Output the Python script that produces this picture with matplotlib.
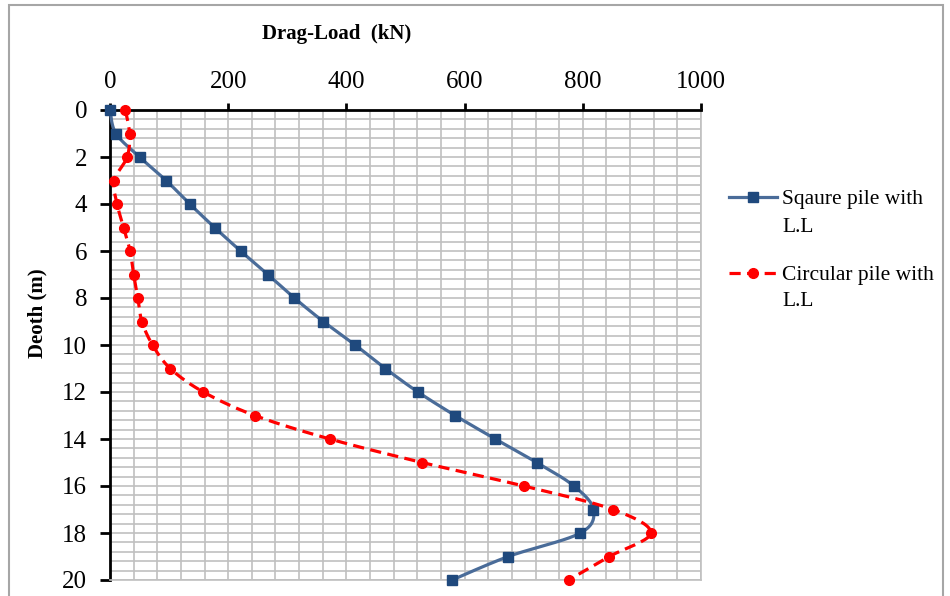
import numpy as np
import matplotlib
matplotlib.use("Agg")
import matplotlib.pyplot as plt
from matplotlib.patches import Rectangle

depth = [0, 1, 2, 3, 4, 5, 6, 7, 8, 9, 10, 11, 12, 13, 14, 15, 16, 17, 18, 19, 20]
square_load = [0, 10, 50, 95, 135, 177, 221, 267, 312, 361, 415, 466, 521, 584, 652,
               722, 785, 818, 796, 674, 579]
circular_load = [26, 33, 29, 7, 12, 23, 34, 40, 47, 54, 72, 102, 158, 245, 372,
                 528, 700, 851, 915, 845, 776]

x_ticks = [0, 200, 400, 600, 800, 1000]
y_ticks = [0, 2, 4, 6, 8, 10, 12, 14, 16, 18, 20]


def smooth(xs, ys, n=20):
    # Catmull-Rom style bezier through every point, like a smoothed line series
    p = np.column_stack([xs, ys]).astype(float)
    ext = np.vstack([p[0], p, p[-1]])
    out = []
    t = np.linspace(0, 1, n, endpoint=False)[:, None]
    for i in range(len(p) - 1):
        p0, p1, p2, p3 = ext[i], ext[i + 1], ext[i + 2], ext[i + 3]
        b1 = p1 + (p2 - p0) / 6
        b2 = p2 - (p3 - p1) / 6
        seg = ((1 - t) ** 3) * p1 + 3 * ((1 - t) ** 2) * t * b1 + 3 * (1 - t) * t ** 2 * b2 + t ** 3 * p2
        out.append(seg)
    out.append(p[-1][None, :])
    out = np.vstack(out)
    marks = list(range(0, n * (len(p) - 1) + 1, n))
    return out[:, 0], out[:, 1], marks


plt.rcParams['font.family'] = ['Liberation Serif', 'DejaVu Serif']

fig = plt.figure(figsize=(9.5, 5.96), dpi=100)
W, H = 950, 596
ax = fig.add_axes([110 / W, 1 - 580 / H, (701 - 110) / W, (580 - 110) / H])

# outer chart frame
fig.patches.append(Rectangle((9 / W, -0.05), (943 - 9) / W, 1.05 - 5 / H,
                             transform=fig.transFigure, fill=False,
                             edgecolor='#a6a6a6', linewidth=1.5))

sx, sy, sm = smooth(square_load, depth)
cx, cy, cm = smooth(circular_load, depth)

ax.plot(sx, sy, color='#4a6c99', linewidth=2.3, marker='s', markevery=sm,
        markersize=7.5, markerfacecolor='#1f497d', markeredgecolor='#1f497d',
        label='Sqaure pile with', zorder=3, clip_on=False)
ax.plot(cx, cy, color='#ff0000', linewidth=2.3, linestyle=(0, (3.5, 2)), marker='o',
        markevery=cm, markersize=7, markerfacecolor='#ff0000', markeredgecolor='#ff0000',
        label='Circular pile with', zorder=4, clip_on=False)

ax.set_xlim(0, 1000)
ax.set_ylim(20, 0)
ax.xaxis.tick_top()
ax.xaxis.set_label_position('top')
ax.set_xticks(x_ticks)
ax.set_yticks(y_ticks)
ax.set_xticks(np.arange(0, 1001, 40), minor=True)
ax.set_yticks(np.arange(0, 20.01, 0.4), minor=True)
ax.tick_params(axis='both', which='minor', length=0)
ax.tick_params(axis='x', which='major', length=5, width=2, labelsize=18, pad=7.5, colors='black')
ax.tick_params(axis='y', which='major', length=7, width=2, labelsize=18, pad=9.5, colors='black')
ax.grid(True, which='both', color='#c0c0c0', linewidth=1.2)
ax.set_axisbelow(True)

for side in ['right', 'bottom']:
    ax.spines[side].set_color('#c0c0c0')
    ax.spines[side].set_linewidth(1.2)
for side in ['left', 'top']:
    ax.spines[side].set_linewidth(2)
    ax.spines[side].set_color('black')

ax.set_xlabel('Drag-Load  (kN)', fontsize=15, fontweight='bold')
ax.xaxis.set_label_coords((337 - 110) / 591, (580 - 34) / 470)
ax.xaxis.label.set_va('center')
ax.set_ylabel('Deoth (m)', fontsize=15, fontweight='bold')
ax.yaxis.set_label_coords((37 - 110) / 591, (580 - 313) / 470)
ax.yaxis.label.set_va('center')

leg = ax.legend(loc='upper left', bbox_to_anchor=(729 / W, 1 - 189 / H), bbox_transform=fig.transFigure,
                frameon=False, fontsize=15.5, handlelength=2.25, handletextpad=0.22,
                labelspacing=2.6, borderaxespad=0, borderpad=0)

# second line of each legend entry
for y in [228, 301]:
    fig.text(782 / W, 1 - y / H, 'L.L', fontsize=15.5, va='center', ha='left')

fig.savefig('out.png', dpi=100)
